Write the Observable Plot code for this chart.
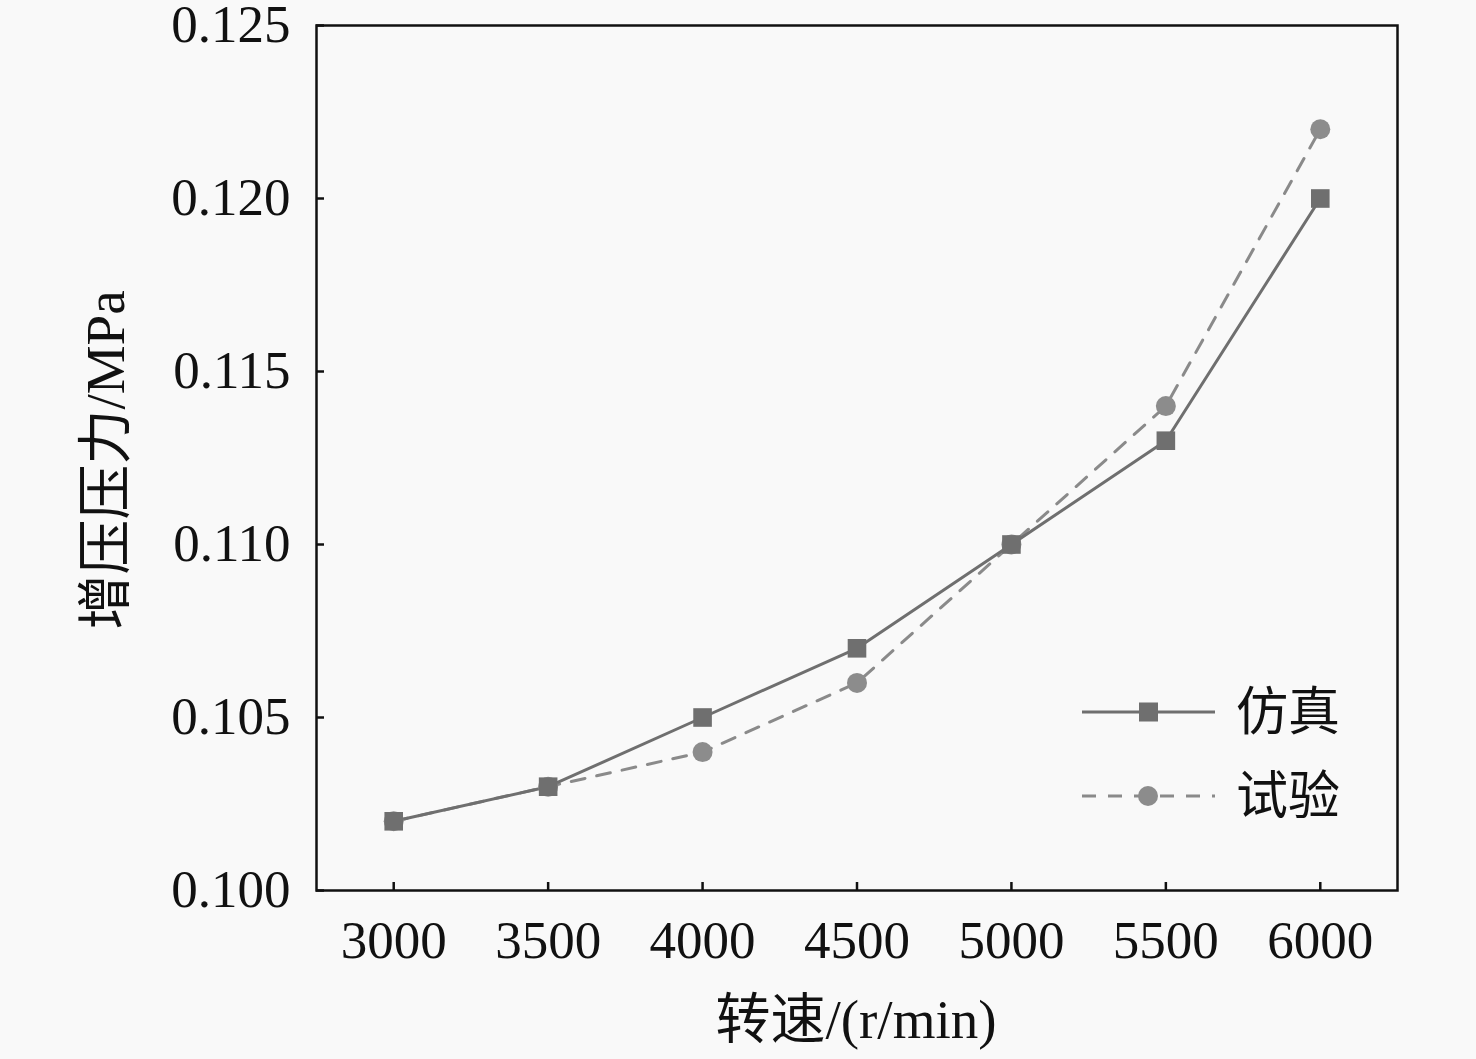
<!DOCTYPE html>
<html><head><meta charset="utf-8">
<script src="https://cdn.jsdelivr.net/npm/d3@7"></script>
<script src="https://cdn.jsdelivr.net/npm/@observablehq/plot@0.6"></script>
<style>
html,body{margin:0;padding:0;background:#f9f9f9;}
#wrap{position:relative;width:1476px;height:1059px;}
</style></head>
<body><div id="wrap"></div>
<script>
const speeds = [3000, 3500, 4000, 4500, 5000, 5500, 6000];
const simulation = [0.102, 0.103, 0.105, 0.107, 0.110, 0.113, 0.120];
const experiment = [0.102, 0.103, 0.104, 0.106, 0.110, 0.114, 0.122];
const xTicks = [3000, 3500, 4000, 4500, 5000, 5500, 6000];
const yTicks = [0.100, 0.105, 0.110, 0.115, 0.120, 0.125];
const seriesNames = ["仿真", "试验"];

const simData = speeds.map((s, i) => ({x: s, y: simulation[i]}));
const expData = speeds.map((s, i) => ({x: s, y: experiment[i]}));

const font = '"Liberation Serif","Noto Sans CJK SC",serif';
const chart = Plot.plot({
  width: 1476, height: 1059,
  marginLeft: 316, marginRight: 79, marginTop: 25, marginBottom: 169,
  style: {background: "#f9f9f9", fontFamily: font, color: "#111"},
  x: {domain: [2750, 6250], label: null},
  y: {domain: [0.100, 0.125], label: null},
  marks: [
    Plot.axisX({ticks: xTicks, tickSize: 8, dy: -8, text: null, label: null, strokeWidth: 2.5, stroke: "#111"}),
    Plot.axisX({ticks: xTicks, tickSize: 0, tickPadding: 30, tickFormat: d => String(d), fontSize: 53, label: null, fill: "#111"}),
    Plot.axisY({ticks: yTicks, tickSize: 8, dx: 8, text: null, label: null, strokeWidth: 2.5, stroke: "#111"}),
    Plot.axisY({ticks: yTicks, tickSize: 0, tickPadding: 26, tickFormat: d3.format(".3f"), fontSize: 53, label: null, fill: "#111"}),
    Plot.line(expData, {x: "x", y: "y", stroke: "#8a8a8a", strokeWidth: 3, strokeDasharray: "14,12"}),
    Plot.line(simData, {x: "x", y: "y", stroke: "#6f6f6f", strokeWidth: 3}),
    Plot.dot(expData, {x: "x", y: "y", r: 10, fill: "#8c8c8c", stroke: "none"}),
    Plot.dot(simData, {x: "x", y: "y", symbol: "square", r: 10.5, fill: "#6f6f6f", stroke: "none"}),
    Plot.frame({stroke: "#111", strokeWidth: 2.5})
  ]
});
const wrap = document.getElementById("wrap");
wrap.appendChild(chart);

const svg = d3.select(chart);
svg.append("text").attr("x", 856).attr("y", 1038).attr("text-anchor", "middle")
  .attr("font-family", font).attr("font-size", 55).attr("fill", "#111").text("转速/(r/min)");
svg.append("text").attr("transform", "translate(124,460) rotate(-90)").attr("text-anchor", "middle")
  .attr("font-family", font).attr("font-size", 55).attr("fill", "#111").text("增压压力/MPa");

// legend
const lg = svg.append("g").attr("text-anchor", "start");
const rows = [
  {name: seriesNames[0], y: 712, stroke: "#6f6f6f", dash: null, sym: "square", fill: "#6f6f6f"},
  {name: seriesNames[1], y: 796, stroke: "#8a8a8a", dash: "14,12", sym: "circle", fill: "#8c8c8c"}
];
rows.forEach(r => {
  lg.append("line").attr("x1", 1082).attr("x2", 1215).attr("y1", r.y).attr("y2", r.y)
    .attr("stroke", r.stroke).attr("stroke-width", 3).attr("stroke-dasharray", r.dash);
  if (r.sym === "square") lg.append("rect").attr("x", 1139).attr("y", r.y - 9.5).attr("width", 19).attr("height", 19).attr("fill", r.fill);
  else lg.append("circle").attr("cx", 1148).attr("cy", r.y).attr("r", 10).attr("fill", r.fill);
  lg.append("text").attr("x", 1236).attr("y", r.y + 18).attr("text-anchor", "start").attr("font-family", font)
    .attr("font-size", 52).attr("fill", "#111").text(r.name);
});
</script></body></html>
